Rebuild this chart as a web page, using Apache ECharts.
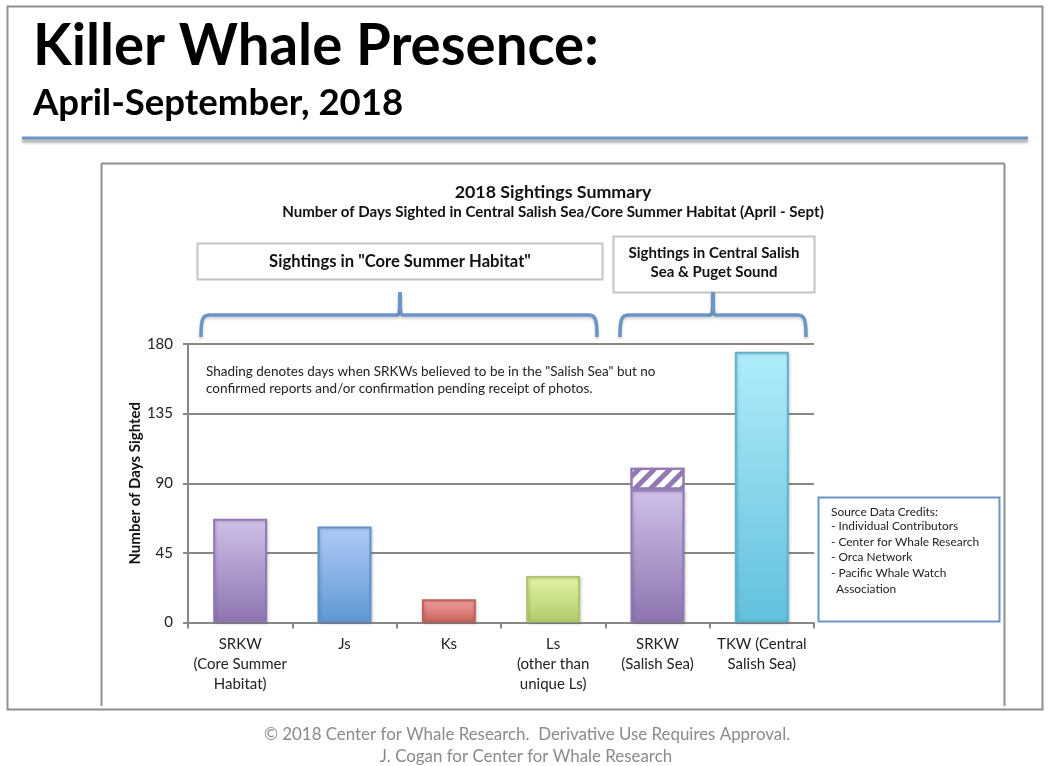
<!DOCTYPE html>
<html>
<head>
<meta charset="utf-8">
<style>
  html, body { margin: 0; padding: 0; background: #fff; }
  #chart { width: 1049px; height: 766px; }
</style>
<script src="https://cdn.jsdelivr.net/npm/echarts@6/dist/echarts.min.js"></script>
</head>
<body>
<div id="chart"></div>
<script>
const categories = ['SRKW\n(Core Summer\nHabitat)', 'Js', 'Ks', 'Ls\n(other than\nunique Ls)', 'SRKW\n(Salish Sea)', 'TKW (Central\nSalish Sea)'];
const confirmedDays = [67, 62, 15, 30, 86, 175];
const pendingDays = ['-', '-', '-', '-', 14, '-'];
const yTicks = { min: 0, max: 180, interval: 45 };

const barTop = ['#d0c0ea', '#afcbf7', '#f0a39e', '#e3f5a6', '#d0c0ea', '#b0edfc'];
const barBottom = ['#8e74b0', '#5f98d4', '#c9605a', '#b0ca68', '#8e74b0', '#62c0dc'];
const barBorder = ['#9279b3', '#5f92cc', '#c4605a', '#aec46e', '#9279b3', '#5fb3cf'];

const font = 'Lato';
const blue = '#6a95c8';
const frameGrey = '#8f8f8f';
const boxGrey = '#c4c4c4';

const chart = echarts.init(document.getElementById('chart'));

function text(x, y, str, size, opts) {
  return {
    type: 'text', x: x, y: y, silent: true, z: 20,
    style: Object.assign({
      text: str, font: (opts && opts.weight || 'normal') + ' ' + size + 'px ' + font,
      fill: '#111', textAlign: 'left', textVerticalAlign: 'middle'
    }, opts && opts.style)
  };
}

function frame(x, y, w, h, color, lineWidth) {
  return {
    type: 'rect', silent: true, z: 1,
    shape: { x: x, y: y, width: w, height: h },
    style: { fill: 'transparent', stroke: color, lineWidth: lineWidth }
  };
}

// curly bracket above a group of bars, x0..x1 with the peak at xm
function brace(x0, xm, x1) {
  const t = 292, m = 315, b = 337;
  const style = { fill: 'none', stroke: blue, lineWidth: 3.5, shadowColor: 'rgba(0,0,0,0.2)', shadowBlur: 3, shadowOffsetY: 2 };
  const curve = (x1_, y1_, cx1, cy1, cx2, cy2, x2_, y2_) => ({
    type: 'bezierCurve', silent: true, z: 5, style: style,
    shape: { x1: x1_, y1: y1_, cpx1: cx1, cpy1: cy1, cpx2: cx2, cpy2: cy2, x2: x2_, y2: y2_ }
  });
  const seg = (xa, xb) => ({
    type: 'line', silent: true, z: 5, style: style,
    shape: { x1: xa, y1: m, x2: xb, y2: m }
  });
  return [
    curve(x0, b, x0, m + 6, x0 + 1, m, x0 + 8, m),
    seg(x0 + 8, xm - 3),
    curve(xm - 3, m, xm, m, xm, m - 6, xm, t),
    curve(xm, t, xm, m - 6, xm, m, xm + 3, m),
    seg(xm + 3, x1 - 8),
    curve(x1 - 8, m, x1 - 1, m, x1, m + 6, x1, b)
  ];
}

chart.setOption({
  animation: false,
  backgroundColor: '#fff',
  textStyle: { fontFamily: font },
  grid: { left: 188, right: 235, top: 344, bottom: 143.5 },
  xAxis: {
    type: 'category',
    data: categories,
    axisLine: { lineStyle: { color: '#888', width: 2 } },
    axisTick: { show: true, length: 6, alignWithLabel: false, lineStyle: { color: '#888', width: 2 } },
    axisLabel: { interval: 0, color: '#222', fontSize: 15, lineHeight: 20, margin: 12, fontFamily: font }
  },
  yAxis: {
    type: 'value',
    min: yTicks.min,
    max: yTicks.max,
    interval: yTicks.interval,
    name: 'Number of Days Sighted',
    nameLocation: 'middle',
    nameGap: 45,
    nameMoveOverlap: false,
    nameTextStyle: { color: '#111', fontSize: 15, fontWeight: 'bold', fontFamily: font },
    axisLine: { show: true, lineStyle: { color: '#888', width: 2 } },
    axisTick: { show: true, length: 5, lineStyle: { color: '#888', width: 2 } },
    axisLabel: { color: '#222', fontSize: 15, margin: 15, fontFamily: font },
    splitLine: { show: true, lineStyle: { color: '#888', width: 2 } }
  },
  series: [
    {
      name: 'Confirmed',
      type: 'bar',
      stack: 'days',
      barWidth: 54,
      data: confirmedDays.map((v, i) => ({
        value: v,
        itemStyle: {
          color: new echarts.graphic.LinearGradient(0, 0, 0, 1, [
            { offset: 0, color: barTop[i] },
            { offset: 1, color: barBottom[i] }
          ]),
          borderColor: barBorder[i],
          borderWidth: 2,
          shadowColor: 'rgba(0,0,0,0.18)',
          shadowBlur: 3,
          shadowOffsetX: 1,
          shadowOffsetY: 1
        }
      }))
    },
    {
      name: 'Pending',
      type: 'bar',
      stack: 'days',
      barWidth: 54,
      itemStyle: {
        color: '#fff',
        borderColor: barBorder[4],
        borderWidth: 2,
        decal: {
          symbol: 'rect',
          color: barBorder[4],
          dashArrayX: [1, 0],
          dashArrayY: [5, 6],
          rotation: -Math.PI / 4
        }
      },
      data: pendingDays
    }
  ],
  graphic: [
    frame(7.5, 6.5, 1035, 703, frameGrey, 2),
    {
      type: 'line', silent: true, z: 2,
      shape: { x1: 22, y1: 138, x2: 1028, y2: 138 },
      style: { stroke: blue, lineWidth: 3, shadowColor: 'rgba(0,0,0,0.4)', shadowBlur: 3, shadowOffsetY: 3 }
    },
    { type: 'line', silent: true, z: 1, shape: { x1: 101.5, y1: 163.5, x2: 101.5, y2: 706 }, style: { stroke: frameGrey, lineWidth: 2 } },
    { type: 'line', silent: true, z: 1, shape: { x1: 101.5, y1: 163.5, x2: 1004.5, y2: 163.5 }, style: { stroke: frameGrey, lineWidth: 2 } },
    { type: 'line', silent: true, z: 1, shape: { x1: 1004.5, y1: 163.5, x2: 1004.5, y2: 706 }, style: { stroke: frameGrey, lineWidth: 2 } },

    text(33, 47, 'Killer Whale Presence:', 56.4, { weight: 'bold', style: { fill: '#000' } }),
    text(33, 103, 'April-September, 2018', 36.6, { weight: 'bold', style: { fill: '#000' } }),

    text(553, 192, '2018 Sightings Summary', 17.8, { weight: 'bold', style: { textAlign: 'center' } }),
    text(553, 212, 'Number of Days Sighted in Central Salish Sea/Core Summer Habitat (April - Sept)', 15.1, { weight: 'bold', style: { textAlign: 'center' } }),

    frame(197.5, 243.5, 405, 36, boxGrey, 2),
    text(400, 262, 'Sightings in "Core Summer Habitat"', 16.6, { weight: 'bold', style: { textAlign: 'center' } }),
    frame(613.5, 236.5, 201, 56, boxGrey, 2),
    text(714, 253, 'Sightings in Central Salish', 15, { weight: 'bold', style: { textAlign: 'center' } }),
    text(714, 272, 'Sea & Puget Sound', 15, { weight: 'bold', style: { textAlign: 'center' } }),
    ...brace(201, 400, 597),
    ...brace(620, 713, 806),

    text(206, 372, 'Shading denotes days when SRKWs believed to be in the "Salish Sea" but no', 13.5, { style: { fill: '#222' } }),
    text(206, 389, 'confirmed reports and/or confirmation pending receipt of photos.', 13.5, { style: { fill: '#222' } }),

    {
      type: 'rect', silent: true, z: 10,
      shape: { x: 818.5, y: 497.5, width: 181, height: 124 },
      style: { fill: '#fff', stroke: blue, lineWidth: 2 }
    },
    text(831, 512, 'Source Data Credits:', 11.9, { style: { fill: '#222' } }),
    text(831, 526, '- Individual Contributors', 11.9, { style: { fill: '#222' } }),
    text(831, 542, '- Center for Whale Research', 11.9, { style: { fill: '#222' } }),
    text(831, 557, '- Orca Network', 11.9, { style: { fill: '#222' } }),
    text(831, 573, '- Pacific Whale Watch', 11.9, { style: { fill: '#222' } }),
    text(836, 589, 'Association', 11.9, { style: { fill: '#222' } }),

    text(527, 735, '\u00a9 2018 Center for Whale Research.  Derivative Use Requires Approval.', 16.9, { style: { fill: '#8a8a8a', textAlign: 'center' } }),
    text(526, 757, 'J. Cogan for Center for Whale Research', 16.9, { style: { fill: '#8a8a8a', textAlign: 'center' } })
  ]
});
</script>
</body>
</html>
